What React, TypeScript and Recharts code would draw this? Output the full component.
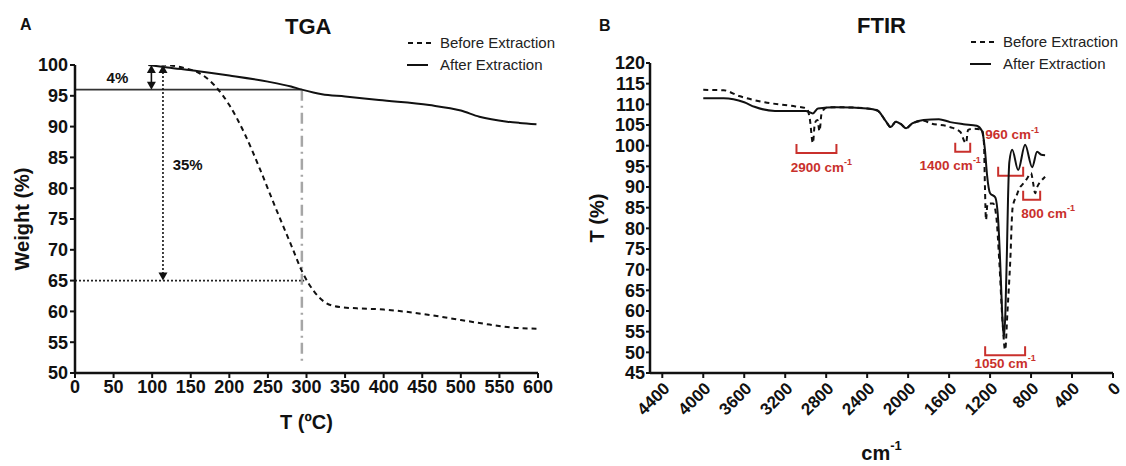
import { LineChart, Line, XAxis, YAxis, ReferenceLine, ReferenceDot, Legend } from "recharts";

const FONT = "Arial, 'Liberation Sans', Helvetica, sans-serif";
const INK = "#111";
const RED = "#c9302c";

// TGA (weight % vs temperature)
const tgaBeforeTemp = [100, 122, 142, 161, 180, 200, 220, 240, 260, 280, 295, 310, 325, 343, 365, 400, 450, 500, 530, 565, 598];
const tgaBeforeWeight = [100.2, 100, 99.5, 98.7, 96.8, 93.5, 88.8, 83.0, 76.8, 70.8, 66.3, 63.2, 61.4, 60.7, 60.5, 60.3, 59.6, 58.6, 58.0, 57.4, 57.2];
const tgaAfterTemp = [95, 120, 160, 200, 250, 280, 294, 320, 350, 394, 459, 500, 524, 560, 576, 598];
const tgaAfterWeight = [100, 99.6, 99.0, 98.3, 97.3, 96.5, 96.0, 95.25, 94.9, 94.3, 93.5, 92.6, 91.6, 90.8, 90.6, 90.4];
const tgaXTicks = [0, 50, 100, 150, 200, 250, 300, 350, 400, 450, 500, 550, 600];
const tgaYTicks = [50, 55, 60, 65, 70, 75, 80, 85, 90, 95, 100];

// FTIR (transmittance % vs wavenumber)
const ftirBeforeWn = [4000, 3800, 3650, 3400, 3100, 2990, 2960, 2930, 2910, 2885, 2865, 2845, 2800, 2700, 2400, 2300, 2220, 2170, 2120, 2070, 2020, 1960, 1850, 1780, 1590, 1490, 1450, 1435, 1415, 1365, 1280, 1260, 1250, 1240, 1225, 1170, 1140, 1110, 1080, 1053, 1030, 1004, 980, 940, 906, 887, 840, 800, 780, 760, 740, 700, 663];
const ftirBeforeT = [113.5, 113.4, 112, 110.5, 109.5, 109.0, 106.5, 100.6, 105.5, 106.2, 103.5, 107.8, 109.2, 109.3, 109.0, 108.5, 106.0, 104.5, 105.8, 105.2, 104.2, 105.4, 106.0, 105.4, 104.5, 103.3, 101, 100.6, 103.8, 104.1, 103.9, 100.6, 90, 82, 86, 86, 83, 72, 58, 50.6, 60, 71.6, 85, 88, 90, 90.5, 92, 93.4, 91, 88.5, 90, 91.5, 92.5];
const ftirAfterWn = [4000, 3800, 3600, 3500, 3300, 3000, 2930, 2880, 2700, 2400, 2300, 2220, 2170, 2120, 2070, 2020, 1960, 1850, 1700, 1590, 1460, 1330, 1280, 1250, 1230, 1200, 1150, 1121, 1101, 1082, 1065, 1050, 1035, 1025, 1012, 984, 926, 858, 789, 741, 700, 663];
const ftirAfterT = [111.5, 111.5, 110.5, 109.4, 108.4, 108.4, 107.8, 109.0, 109.3, 109.0, 108.5, 106.0, 104.5, 105.8, 105.2, 104.2, 105.4, 106.2, 106.4, 105.7, 105.2, 104.8, 103.6, 99, 93, 88.5, 87.5, 82, 71.6, 59.5, 53.5, 60, 75, 87, 96, 99, 94.1, 100.2, 94.8, 98.5, 97.8, 97.7];
const ftirXTicks = [4400, 4000, 3600, 3200, 2800, 2400, 2000, 1600, 1200, 800, 400, 0];
const ftirYTicks = [45, 50, 55, 60, 65, 70, 75, 80, 85, 90, 95, 100, 105, 110, 115, 120];

// FTIR band brackets and their labels
const bandNames = ["2900", "1400", "960", "800", "1050"];
const bandFrom = [3090, 1540, 1121, 877, 1248];
const bandTo = [2700, 1394, 877, 711, 858];
const bandLevel = [98.2, 98.5, 92.7, 86.9, 49.3];
const bandLabelX = [2846, 1589, 984, 634, 1053];
const bandLabelY = [94.8, 95.3, 102.6, 83.7, 47.4];

const zip = (xs: number[], ys: number[]) => xs.map((x, i) => ({ x, y: ys[i] }));

const tgaBefore = zip(tgaBeforeTemp, tgaBeforeWeight);
const tgaAfter = zip(tgaAfterTemp, tgaAfterWeight);
const ftirBefore = zip(ftirBeforeWn, ftirBeforeT);
const ftirAfter = zip(ftirAfterWn, ftirAfterT);

const tickStyle = { fill: INK, fontSize: 18, fontWeight: 700, fontFamily: FONT };
const axisLine = { stroke: INK, strokeWidth: 2.5 };
const tickLine = { stroke: INK, strokeWidth: 2 };
const titleStyle = { fontFamily: FONT, fontSize: 20, fontWeight: 700, fill: INK };

const yTitle = (text: string, cx: number) => (p: any) => {
  const vb = p.viewBox;
  const x = vb.x + cx;
  const y = vb.y + vb.height / 2;
  return (
    <text x={x} y={y} transform={`rotate(-90 ${x} ${y})`} textAnchor="middle" dominantBaseline="central" style={titleStyle}>
      {text}
    </text>
  );
};

const xTitle = (text: string, dy: number, sup?: string) => (p: any) => {
  const vb = p.viewBox;
  return (
    <text x={vb.x + vb.width / 2} y={vb.y + dy} textAnchor="middle" dominantBaseline="central" style={titleStyle}>
      {text}
      {sup && <tspan dy={-8} fontSize={13}>{sup}</tspan>}
    </text>
  );
};

// vertical line with filled arrowheads at both ends
const doubleArrow = (dash?: string) => (p: any) => {
  const x = p.x1;
  const top = Math.min(p.y1, p.y2);
  const bot = Math.max(p.y1, p.y2);
  const h = 8;
  const w = 4.5;
  return (
    <g>
      <line x1={x} x2={x} y1={top + h - 1} y2={bot - h + 1} stroke={INK} strokeWidth={1.6} strokeDasharray={dash} />
      <path d={`M${x},${top} L${x - w},${top + h} L${x + w},${top + h} Z`} fill={INK} />
      <path d={`M${x},${bot} L${x - w},${bot - h} L${x + w},${bot - h} Z`} fill={INK} />
    </g>
  );
};

const bracket = (p: any) => (
  <path d={`M${p.x1},${p.y1 - 9} V${p.y1} H${p.x2} V${p.y2 - 9}`} fill="none" stroke={RED} strokeWidth={2} />
);

const textDot = (text: string, size: number) => (p: any) => (
  <text x={p.cx} y={p.cy} textAnchor="middle" dominantBaseline="central" fontFamily={FONT} fontSize={size} fontWeight={700} fill={INK}>
    {text}
  </text>
);

const bandLabel = (name: string) => (p: any) => (
  <text x={p.cx} y={p.cy} textAnchor="middle" dominantBaseline="central" fontFamily={FONT} fontSize={13.5} fontWeight={700} fill={RED}>
    {name} cm<tspan dy={-5} fontSize={9}>-1</tspan>
  </text>
);

function LegendBox() {
  return (
    <div style={{ fontFamily: FONT, fontSize: 15, color: "#222", lineHeight: "22px" }}>
      <div style={{ display: "flex", alignItems: "center" }}>
        <svg width={33} height={10}>
          <line x1={1} x2={24} y1={5} y2={5} stroke={INK} strokeWidth={2} strokeDasharray="5 4" />
        </svg>
        Before Extraction
      </div>
      <div style={{ display: "flex", alignItems: "center" }}>
        <svg width={33} height={10}>
          <line x1={0} x2={21} y1={5} y2={5} stroke={INK} strokeWidth={2} />
        </svg>
        After Extraction
      </div>
    </div>
  );
}

const heading = (left: number, top: number, size: number): React.CSSProperties => ({
  position: "absolute",
  left,
  top,
  fontFamily: FONT,
  fontSize: size,
  fontWeight: 700,
  color: INK,
  lineHeight: 1,
});

export default function App() {
  return (
    <div style={{ position: "absolute", left: 0, top: 0, width: 1126, height: 466, background: "#fff", overflow: "hidden" }}>
      <div style={heading(20, 17, 16)}>A</div>
      <div style={heading(285, 16, 22)}>TGA</div>
      <div style={heading(599, 18, 16)}>B</div>
      <div style={heading(857, 15, 22)}>FTIR</div>

      <div style={{ position: "absolute", left: 0, top: 0 }}>
        <LineChart width={560} height={466} margin={{ top: 65, right: 22, bottom: 0, left: 0 }}>
          <XAxis
            type="number"
            dataKey="x"
            domain={[0, 600]}
            ticks={tgaXTicks}
            interval={0}
            allowDataOverflow
            height={93}
            tickSize={5}
            tickMargin={2}
            axisLine={axisLine}
            tickLine={tickLine}
            tick={tickStyle}
            label={{ content: xTitle("T (ºC)", 49) }}
          />
          <YAxis
            type="number"
            domain={[50, 100]}
            ticks={tgaYTicks}
            interval={0}
            allowDataOverflow
            width={75}
            tickSize={5}
            tickMargin={2}
            axisLine={axisLine}
            tickLine={tickLine}
            tick={tickStyle}
            label={{ content: yTitle("Weight (%)", 22) }}
          />
          <ReferenceLine segment={[{ x: 0, y: 96 }, { x: 294, y: 96 }]} stroke="#333" strokeWidth={1.6} />
          <ReferenceLine segment={[{ x: 0, y: 65 }, { x: 297, y: 65 }]} stroke="#222" strokeWidth={1.6} strokeDasharray="2 2" />
          <ReferenceLine segment={[{ x: 294, y: 96 }, { x: 294, y: 52 }]} stroke="#a6a6a6" strokeWidth={2.5} strokeDasharray="11 5 2 5" />
          <ReferenceLine segment={[{ x: 99, y: 100 }, { x: 99, y: 96 }]} shape={doubleArrow()} />
          <ReferenceLine segment={[{ x: 114, y: 100 }, { x: 114, y: 65 }]} shape={doubleArrow("2 2")} />
          <ReferenceDot x={55} y={98} r={0} shape={textDot("4%", 15)} />
          <ReferenceDot x={146} y={83.8} r={0} shape={textDot("35%", 15)} />
          <Line data={tgaBefore} dataKey="y" type="monotone" stroke={INK} strokeWidth={2} strokeDasharray="5 4" dot={false} activeDot={false} isAnimationActive={false} />
          <Line data={tgaAfter} dataKey="y" type="monotone" stroke={INK} strokeWidth={2} dot={false} activeDot={false} isAnimationActive={false} />
          <Legend
            layout="horizontal"
            verticalAlign="middle"
            align="center"
            wrapperStyle={{ left: 407, top: 32, width: 170 }}
            content={() => <LegendBox />}
          />
        </LineChart>
      </div>

      <div style={{ position: "absolute", left: 560, top: 0 }}>
        <LineChart width={566} height={466} margin={{ top: 63, right: 13, bottom: 0, left: 0 }}>
          <XAxis
            type="number"
            dataKey="x"
            domain={[0, 4520]}
            reversed
            ticks={ftirXTicks}
            interval={0}
            allowDataOverflow
            height={93}
            tickSize={5}
            tickMargin={3}
            axisLine={axisLine}
            tickLine={tickLine}
            tick={{ ...tickStyle, fontSize: 17, angle: -45, textAnchor: "end" }}
            label={{ content: xTitle("cm", 80, "-1") }}
          />
          <YAxis
            type="number"
            domain={[45, 120]}
            ticks={ftirYTicks}
            interval={0}
            allowDataOverflow
            width={90}
            tickSize={4}
            tickMargin={1}
            axisLine={axisLine}
            tickLine={tickLine}
            tick={tickStyle}
            label={{ content: yTitle("T (%)", 37) }}
          />
          {bandNames.map((n, i) => (
            <ReferenceLine
              key={`b${n}`}
              segment={[{ x: bandFrom[i], y: bandLevel[i] }, { x: bandTo[i], y: bandLevel[i] }]}
              shape={bracket}
            />
          ))}
          {bandNames.map((n, i) => (
            <ReferenceDot key={`l${n}`} x={bandLabelX[i]} y={bandLabelY[i]} r={0} shape={bandLabel(n)} />
          ))}
          <Line data={ftirBefore} dataKey="y" type="monotone" stroke={INK} strokeWidth={2} strokeDasharray="5 4" dot={false} activeDot={false} isAnimationActive={false} />
          <Line data={ftirAfter} dataKey="y" type="monotone" stroke={INK} strokeWidth={2} dot={false} activeDot={false} isAnimationActive={false} />
          <Legend
            layout="horizontal"
            verticalAlign="middle"
            align="center"
            wrapperStyle={{ left: 410, top: 31, width: 160 }}
            content={() => <LegendBox />}
          />
        </LineChart>
      </div>
    </div>
  );
}
